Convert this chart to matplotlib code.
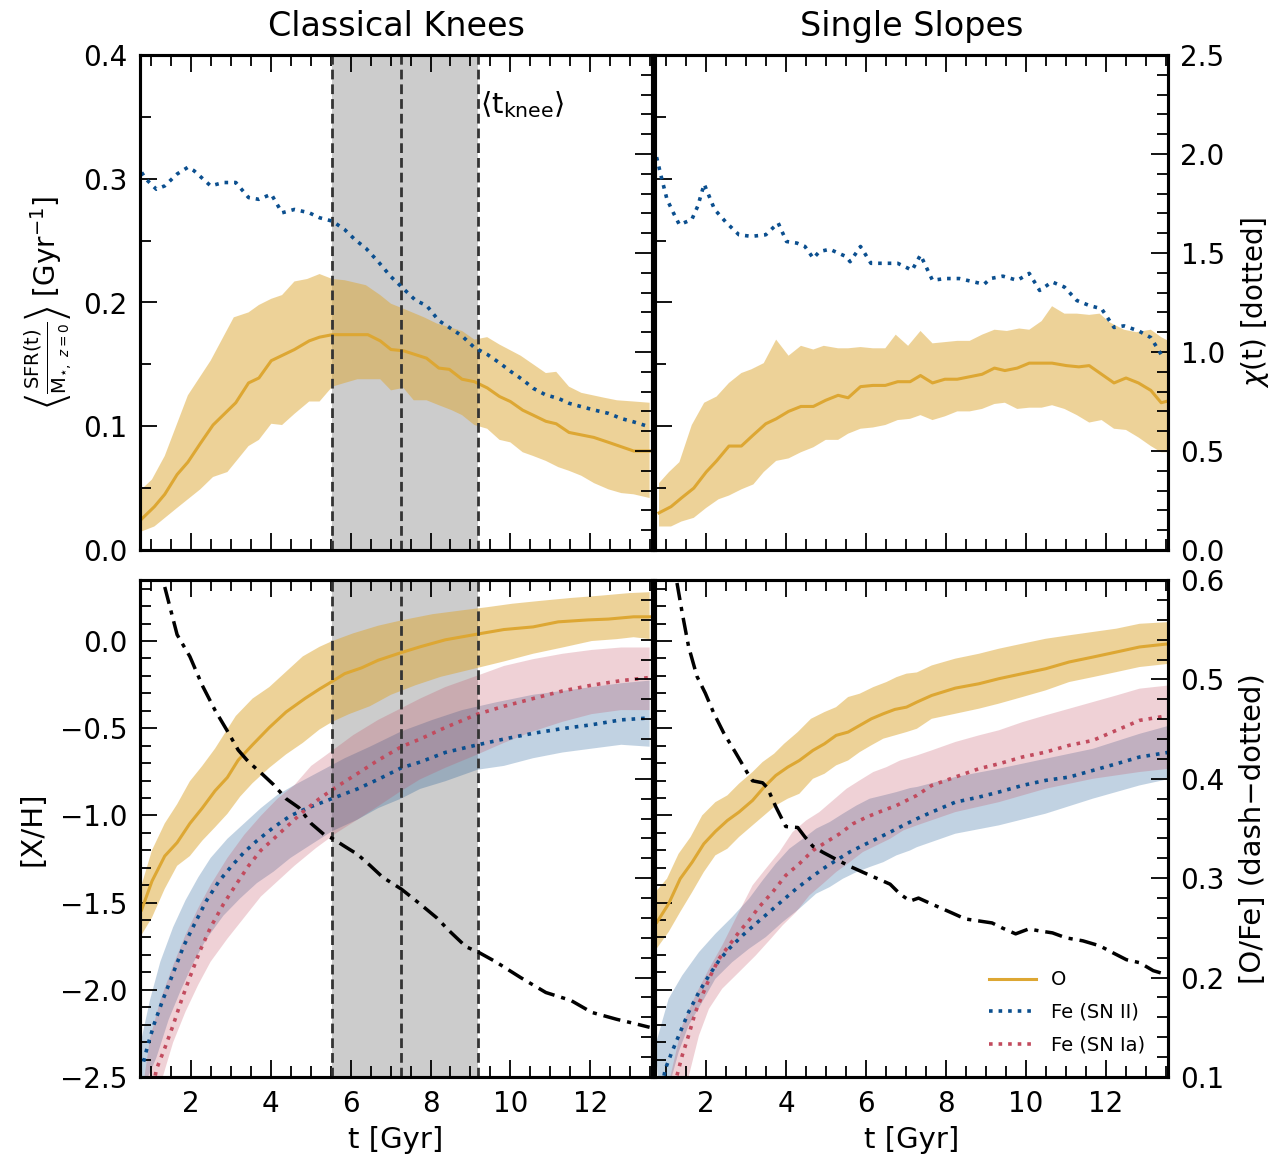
import numpy as np
import matplotlib.pyplot as plt
from matplotlib.ticker import MultipleLocator

plt.rcParams['font.family'] = ['DejaVu Sans']
plt.rcParams['mathtext.fontset'] = 'dejavusans'

GOLD = '#DDA733'
BLUE = '#0B4F8F'
RED = '#C24B5E'

# knee window (Gyr): lower edge, median, upper edge
knee_lo, knee_med, knee_hi = 5.54, 7.27, 9.18

# ---- top left: classical knees, SFR / M* and chi ----
kn_sfr_t = [0.76, 1.08, 1.34, 1.65, 1.92, 2.23, 2.55, 3.12, 3.44, 3.70, 4.01, 4.59, 4.96, 5.22, 5.54, 6.43, 6.74, 7.01,
            7.32, 7.90, 8.21, 8.47, 8.79, 9.10, 9.42, 9.73, 10.0, 10.31, 10.57, 10.89, 11.15, 11.47, 12.09, 12.46, 13.09, 13.49]
kn_sfr = [0.025, 0.035, 0.045, 0.061, 0.071, 0.086, 0.101, 0.119, 0.135, 0.139, 0.153, 0.162, 0.169, 0.172, 0.174, 0.174,
          0.169, 0.162, 0.161, 0.155, 0.147, 0.146, 0.138, 0.136, 0.131, 0.124, 0.120, 0.113, 0.109, 0.104, 0.102, 0.095,
          0.091, 0.087, 0.080, 0.080]
kn_sfr_up_t = [0.76, 1.02, 1.34, 1.92, 2.49, 3.07, 3.44, 3.70, 4.01, 4.28, 4.59, 4.91, 5.22, 5.54, 5.85, 6.38, 6.74, 7.01,
               7.32, 7.84, 8.16, 8.79, 9.10, 9.42, 9.73, 10.26, 10.89, 11.15, 11.47, 11.78, 12.36, 12.67, 13.09, 13.49]
kn_sfr_up = [0.049, 0.057, 0.076, 0.125, 0.153, 0.188, 0.192, 0.198, 0.203, 0.206, 0.217, 0.219, 0.223, 0.219, 0.218,
             0.214, 0.206, 0.199, 0.195, 0.188, 0.183, 0.177, 0.170, 0.172, 0.166, 0.157, 0.143, 0.144, 0.132, 0.127,
             0.123, 0.121, 0.120, 0.119]
kn_sfr_lo_t = [0.76, 1.08, 1.65, 2.23, 2.55, 2.91, 3.44, 3.70, 4.01, 4.28, 4.59, 4.96, 5.22, 5.54, 5.85, 6.17, 6.74, 7.01,
               7.32, 7.58, 7.90, 8.21, 8.53, 8.79, 9.10, 9.42, 9.73, 10.0, 10.31, 10.57, 10.89, 11.20, 11.47, 11.78,
               12.10, 12.46, 12.78, 13.09, 13.49]
kn_sfr_lo = [0.015, 0.019, 0.034, 0.049, 0.059, 0.063, 0.084, 0.089, 0.102, 0.101, 0.110, 0.120, 0.120, 0.132, 0.135,
             0.138, 0.138, 0.129, 0.131, 0.121, 0.121, 0.117, 0.113, 0.109, 0.101, 0.098, 0.089, 0.087, 0.079, 0.076,
             0.072, 0.067, 0.064, 0.060, 0.054, 0.049, 0.046, 0.045, 0.042]
kn_chi_t = [0.76, 0.87, 1.13, 1.34, 1.65, 1.92, 2.07, 2.49, 2.81, 3.12, 3.44, 3.70, 4.01, 4.28, 4.59, 4.96, 5.22, 5.54,
            5.85, 6.11, 6.38, 6.69, 7.01, 7.32, 7.63, 7.90, 8.21, 8.47, 8.79, 9.10, 9.42, 9.73, 10.0, 10.31, 10.57,
            10.89, 11.20, 11.47, 11.78, 12.10, 12.46, 12.78, 13.09, 13.49]
kn_chi = [1.907, 1.873, 1.822, 1.839, 1.899, 1.933, 1.916, 1.839, 1.856, 1.856, 1.780, 1.771, 1.797, 1.703, 1.720, 1.703,
          1.678, 1.661, 1.618, 1.567, 1.524, 1.456, 1.380, 1.320, 1.260, 1.235, 1.158, 1.124, 1.081, 1.022, 0.988,
          0.945, 0.903, 0.860, 0.817, 0.783, 0.766, 0.741, 0.724, 0.707, 0.690, 0.664, 0.647, 0.622]

# ---- top right: single slopes, SFR / M* and chi ----
ss_sfr_t = [0.82, 1.12, 1.38, 1.69, 2.00, 2.26, 2.57, 2.88, 3.18, 3.49, 3.75, 4.06, 4.37, 4.68, 4.99, 5.30, 5.55, 5.86,
            6.17, 6.48, 6.79, 7.10, 7.36, 7.66, 7.97, 8.28, 8.59, 8.90, 9.21, 9.47, 9.78, 10.08, 10.39, 10.65, 11.01,
            11.32, 11.58, 11.89, 12.20, 12.50, 12.81, 13.12, 13.38, 13.62]
ss_sfr = [0.030, 0.035, 0.042, 0.050, 0.063, 0.072, 0.084, 0.084, 0.093, 0.102, 0.106, 0.112, 0.116, 0.116, 0.121, 0.125,
          0.123, 0.132, 0.133, 0.133, 0.136, 0.136, 0.141, 0.135, 0.138, 0.138, 0.140, 0.142, 0.147, 0.145, 0.147,
          0.151, 0.151, 0.151, 0.149, 0.148, 0.149, 0.142, 0.135, 0.139, 0.135, 0.129, 0.119, 0.121]
ss_sfr_up_t = [0.82, 1.07, 1.33, 1.64, 1.95, 2.26, 2.57, 2.88, 3.13, 3.44, 3.75, 4.06, 4.37, 4.68, 4.94, 5.30, 5.55,
               5.86, 6.17, 6.48, 6.74, 7.05, 7.36, 7.66, 7.97, 8.28, 8.59, 8.90, 9.21, 9.52, 9.83, 10.08, 10.39, 10.65,
               10.96, 11.27, 11.58, 11.84, 12.09, 12.45, 12.76, 13.12, 13.38, 13.62]
ss_sfr_up = [0.054, 0.063, 0.071, 0.101, 0.119, 0.124, 0.135, 0.143, 0.146, 0.151, 0.170, 0.157, 0.165, 0.162, 0.165,
             0.163, 0.163, 0.164, 0.163, 0.163, 0.174, 0.165, 0.177, 0.167, 0.168, 0.169, 0.169, 0.174, 0.178, 0.177,
             0.179, 0.178, 0.185, 0.197, 0.191, 0.191, 0.190, 0.191, 0.184, 0.178, 0.176, 0.178, 0.172, 0.168]
ss_sfr_lo_t = [0.82, 1.12, 1.38, 1.69, 2.00, 2.31, 2.57, 2.88, 3.18, 3.44, 3.75, 4.06, 4.37, 4.68, 4.99, 5.30, 5.55,
               5.86, 6.17, 6.48, 6.79, 7.10, 7.36, 7.66, 7.97, 8.28, 8.59, 8.90, 9.21, 9.47, 9.78, 10.08, 10.39, 10.65,
               10.96, 11.27, 11.58, 11.89, 12.20, 12.50, 12.81, 13.12, 13.38, 13.62]
ss_sfr_lo = [0.019, 0.019, 0.023, 0.026, 0.034, 0.041, 0.044, 0.049, 0.053, 0.063, 0.072, 0.074, 0.079, 0.083, 0.089,
             0.089, 0.094, 0.098, 0.099, 0.101, 0.105, 0.106, 0.109, 0.105, 0.108, 0.112, 0.112, 0.114, 0.118, 0.119,
             0.114, 0.115, 0.115, 0.117, 0.114, 0.109, 0.103, 0.105, 0.098, 0.097, 0.091, 0.084, 0.079, 0.079]
ss_chi_t = [0.76, 0.87, 1.02, 1.18, 1.33, 1.64, 1.79, 1.95, 2.21, 2.51, 2.82, 3.13, 3.49, 3.80, 4.01, 4.27, 4.47, 4.68,
            4.83, 5.09, 5.50, 5.60, 5.86, 6.12, 6.33, 6.79, 7.15, 7.36, 7.66, 7.97, 8.33, 8.59, 8.95, 9.11, 9.42, 9.78,
            10.08, 10.34, 10.65, 10.96, 11.27, 11.58, 11.89, 12.20, 12.45, 12.81, 13.12, 13.43]
ss_chi = [1.984, 1.890, 1.771, 1.703, 1.643, 1.669, 1.737, 1.848, 1.720, 1.652, 1.592, 1.584, 1.592, 1.652, 1.558, 1.550,
          1.533, 1.473, 1.507, 1.519, 1.482, 1.456, 1.533, 1.448, 1.448, 1.448, 1.413, 1.490, 1.362, 1.371, 1.371,
          1.359, 1.342, 1.371, 1.383, 1.362, 1.397, 1.311, 1.354, 1.328, 1.260, 1.235, 1.218, 1.124, 1.132, 1.107,
          1.073, 0.971]

# ---- bottom left: classical knees, [X/H] and [O/Fe] ----
kn_o_t = [0.76, 1.02, 1.34, 1.65, 1.97, 2.28, 2.60, 2.91, 3.18, 3.54, 3.96, 4.38, 4.85, 5.22, 5.54, 5.85, 6.27, 6.69,
          7.27, 7.74, 8.37, 9.18, 9.84, 10.57, 11.20, 11.94, 12.46, 13.09, 13.49]
kn_o = [-1.542, -1.377, -1.233, -1.156, -1.046, -0.958, -0.859, -0.782, -0.683, -0.595, -0.496, -0.407, -0.330, -0.275,
        -0.231, -0.187, -0.154, -0.110, -0.066, -0.033, 0.007, 0.040, 0.066, 0.081, 0.110, 0.121, 0.126, 0.139, 0.139]
kn_o_up_t = [0.76, 1.02, 1.34, 1.65, 1.97, 2.28, 2.60, 3.12, 3.54, 3.96, 4.38, 4.80, 5.22, 5.54, 6.06, 6.69, 7.32,
             8.05, 8.79, 9.42, 10.05, 10.78, 11.52, 12.25, 12.99, 13.49]
kn_o_up = [-1.399, -1.200, -1.046, -0.936, -0.804, -0.716, -0.617, -0.430, -0.330, -0.264, -0.176, -0.088, -0.033,
           0.000, 0.044, 0.088, 0.121, 0.154, 0.176, 0.194, 0.214, 0.231, 0.247, 0.260, 0.275, 0.280]
kn_o_lo_t = [0.76, 1.02, 1.34, 1.65, 1.97, 2.28, 2.60, 2.91, 3.23, 3.54, 3.96, 4.38, 4.80, 5.22, 5.54, 5.96, 6.48,
             7.01, 7.63, 8.26, 9.18, 9.84, 10.57, 11.31, 12.04, 12.67, 13.09, 13.49]
kn_o_lo = [-1.685, -1.586, -1.421, -1.289, -1.233, -1.145, -1.068, -0.991, -0.892, -0.815, -0.727, -0.650, -0.584,
           -0.507, -0.463, -0.419, -0.374, -0.308, -0.253, -0.205, -0.154, -0.117, -0.073, -0.037, 0.000, 0.011,
           0.022, 0.011]
kn_fe2_t = [0.81, 0.92, 1.08, 1.29, 1.55, 1.81, 2.07, 2.39, 2.70, 3.02, 3.33, 3.65, 4.07, 4.49, 4.91, 5.54, 6.17, 6.69,
            7.27, 7.74, 8.37, 9.18, 9.84, 10.57, 11.31, 12.04, 12.78, 13.49]
kn_fe2 = [-2.412, -2.313, -2.192, -2.059, -1.905, -1.751, -1.630, -1.487, -1.377, -1.289, -1.211, -1.145, -1.068,
          -1.002, -0.958, -0.903, -0.848, -0.793, -0.727, -0.694, -0.639, -0.595, -0.562, -0.529, -0.502, -0.480,
          -0.452, -0.441]
kn_fe2_up_t = [0.76, 0.97, 1.23, 1.55, 1.86, 2.18, 2.49, 2.91, 3.33, 3.75, 4.17, 4.59, 5.22, 5.85, 6.48, 7.27, 8.05,
               8.79, 9.63, 10.57, 11.31, 12.04, 12.78, 13.49]
kn_fe2_up = [-2.280, -2.059, -1.839, -1.641, -1.487, -1.355, -1.244, -1.134, -1.046, -0.958, -0.881, -0.826, -0.749,
             -0.672, -0.606, -0.518, -0.452, -0.396, -0.352, -0.308, -0.286, -0.264, -0.242, -0.227]
kn_fe2_lo_t = [0.76, 0.92, 1.13, 1.44, 1.76, 2.07, 2.39, 2.81, 3.23, 3.65, 4.07, 4.49, 5.01, 5.54, 6.17, 6.69, 7.27,
               7.74, 8.37, 9.18, 9.84, 10.57, 11.31, 12.04, 12.78, 13.49]
kn_fe2_lo = [-2.8, -2.5, -2.390, -2.170, -1.993, -1.839, -1.707, -1.575, -1.476, -1.388, -1.322, -1.244, -1.167, -1.090,
             -1.024, -0.958, -0.903, -0.848, -0.804, -0.738, -0.716, -0.672, -0.639, -0.617, -0.595, -0.606]
kn_fe1_t = [1.02, 1.13, 1.34, 1.55, 1.76, 1.97, 2.23, 2.49, 2.81, 3.12, 3.44, 3.75, 4.07, 4.38, 4.80, 5.22, 5.64, 6.17,
            6.69, 7.27, 7.74, 8.37, 9.18, 9.84, 10.57, 11.31, 12.04, 12.78, 13.49]
kn_fe1 = [-2.60, -2.456, -2.335, -2.203, -2.059, -1.927, -1.773, -1.641, -1.509, -1.399, -1.289, -1.200, -1.134, -1.068,
          -0.980, -0.903, -0.837, -0.760, -0.683, -0.606, -0.562, -0.496, -0.419, -0.374, -0.330, -0.286, -0.253,
          -0.227, -0.209]
kn_fe1_up_t = [0.80, 0.97, 1.23, 1.55, 1.86, 2.18, 2.49, 2.91, 3.33, 3.75, 4.17, 4.59, 5.01, 5.54, 6.06, 6.69, 7.27,
               7.74, 8.37, 9.18, 9.84, 10.57, 11.31, 12.04, 12.78, 13.49]
kn_fe1_up = [-2.55, -2.280, -2.059, -1.861, -1.685, -1.531, -1.399, -1.244, -1.112, -1.002, -0.903, -0.826, -0.716,
             -0.628, -0.540, -0.452, -0.385, -0.330, -0.264, -0.198, -0.143, -0.104, -0.073, -0.051, -0.037, -0.037]
kn_fe1_lo_t = [1.00, 1.29, 1.55, 1.86, 2.18, 2.49, 2.91, 3.33, 3.75, 4.17, 4.59, 5.12, 5.64, 6.17, 6.69, 7.27, 7.74,
               8.37, 9.18, 9.84, 10.57, 11.31, 12.04, 12.78, 13.49]
kn_fe1_lo = [-2.9, -2.5, -2.302, -2.126, -1.971, -1.839, -1.707, -1.586, -1.465, -1.377, -1.289, -1.189, -1.101,
             -1.024, -0.947, -0.859, -0.793, -0.727, -0.650, -0.584, -0.518, -0.463, -0.419, -0.396, -0.396]
kn_ofe_t = [1.34, 1.65, 1.97, 2.28, 2.60, 2.91, 3.18, 3.44, 3.75, 4.07, 4.38, 4.70, 5.01, 5.33, 5.54, 5.85, 6.17, 6.48,
            6.80, 7.27, 7.74, 8.16, 8.47, 8.89, 9.18, 9.63, 10.26, 10.89, 11.52, 12.04, 12.67, 13.09, 13.49]
kn_ofe = [0.593, 0.545, 0.523, 0.494, 0.469, 0.448, 0.429, 0.417, 0.406, 0.394, 0.380, 0.371, 0.355, 0.344, 0.340,
          0.332, 0.324, 0.313, 0.301, 0.289, 0.274, 0.260, 0.247, 0.231, 0.226, 0.216, 0.200, 0.185, 0.177, 0.165,
          0.158, 0.154, 0.150]

# ---- bottom right: single slopes, [X/H] and [O/Fe] ----
ss_o_t = [0.77, 1.06, 1.35, 1.65, 1.94, 2.23, 2.53, 2.82, 3.16, 3.45, 3.74, 4.04, 4.33, 4.67, 4.96, 5.25, 5.55, 5.84,
          6.13, 6.43, 6.72, 7.01, 7.27, 7.64, 8.23, 8.82, 9.32, 9.91, 10.49, 11.08, 11.67, 12.26, 12.84, 13.6]
ss_o = [-1.612, -1.507, -1.363, -1.268, -1.163, -1.092, -1.029, -0.981, -0.914, -0.837, -0.771, -0.723, -0.685, -0.627,
        -0.589, -0.541, -0.522, -0.484, -0.446, -0.417, -0.392, -0.379, -0.350, -0.312, -0.270, -0.245, -0.216, -0.187,
        -0.159, -0.120, -0.092, -0.063, -0.034, -0.015]
ss_o_up_t = [0.73, 1.02, 1.31, 1.61, 1.90, 2.23, 2.53, 2.82, 3.16, 3.41, 3.70, 3.95, 4.29, 4.62, 4.96, 5.25, 5.55, 5.84,
             6.18, 6.51, 6.76, 7.01, 7.27, 7.64, 8.23, 8.82, 9.32, 9.91, 10.49, 11.08, 11.67, 12.26, 12.84, 13.6]
ss_o_up = [-1.440, -1.363, -1.220, -1.124, -1.000, -0.924, -0.885, -0.818, -0.751, -0.694, -0.646, -0.589, -0.522,
           -0.446, -0.407, -0.379, -0.321, -0.302, -0.264, -0.235, -0.207, -0.187, -0.180, -0.140, -0.101, -0.073,
           -0.044, -0.015, 0.013, 0.033, 0.052, 0.071, 0.099, 0.109]
ss_o_lo_t = [0.73, 1.06, 1.35, 1.65, 1.94, 2.23, 2.53, 2.82, 3.16, 3.45, 3.74, 4.04, 4.33, 4.67, 4.96, 5.25, 5.55, 5.84,
             6.13, 6.43, 6.72, 7.01, 7.27, 7.64, 8.23, 8.82, 9.32, 9.91, 10.49, 11.08, 11.67, 12.26, 12.84, 13.6]
ss_o_lo = [-1.774, -1.669, -1.554, -1.440, -1.325, -1.229, -1.191, -1.124, -1.057, -1.000, -0.943, -0.904, -0.876,
           -0.790, -0.761, -0.713, -0.685, -0.637, -0.598, -0.560, -0.541, -0.522, -0.503, -0.446, -0.417, -0.388,
           -0.359, -0.321, -0.283, -0.235, -0.207, -0.178, -0.149, -0.130]
ss_fe2_t = [0.85, 0.98, 1.14, 1.35, 1.56, 1.82, 2.07, 2.32, 2.57, 2.91, 3.24, 3.58, 3.91, 4.25, 4.58, 4.92, 5.25, 5.59,
            5.92, 6.26, 6.60, 6.93, 7.27, 7.64, 8.23, 8.82, 9.32, 9.91, 10.49, 11.08, 11.67, 12.26, 12.84, 13.6]
ss_fe2 = [-2.6, -2.453, -2.358, -2.243, -2.128, -2.013, -1.918, -1.832, -1.765, -1.688, -1.621, -1.554, -1.488, -1.421,
          -1.363, -1.306, -1.258, -1.210, -1.172, -1.134, -1.096, -1.057, -1.019, -0.981, -0.924, -0.895, -0.866,
          -0.828, -0.799, -0.780, -0.742, -0.704, -0.665, -0.637]
ss_fe2_up_t = [0.73, 1.06, 1.40, 1.82, 2.23, 2.65, 3.07, 3.41, 3.74, 4.08, 4.42, 4.75, 5.09, 5.42, 5.76, 6.09, 6.43,
               6.76, 7.10, 7.27, 8.23, 9.32, 10.49, 11.67, 12.84, 13.6]
ss_fe2_up = [-2.319, -2.052, -1.918, -1.784, -1.679, -1.583, -1.478, -1.373, -1.277, -1.191, -1.134, -1.076, -1.038,
             -0.990, -0.943, -0.904, -0.885, -0.866, -0.843, -0.837, -0.780, -0.732, -0.675, -0.618, -0.532, -0.484]
ss_fe2_lo_t = [0.90, 1.14, 1.31, 1.56, 1.90, 2.23, 2.65, 3.07, 3.49, 3.91, 4.33, 4.75, 5.09, 5.42, 5.76, 6.09, 6.43,
               6.76, 7.10, 7.27, 8.23, 9.32, 10.49, 11.67, 12.84, 13.6]
ss_fe2_lo = [-2.8, -2.5, -2.358, -2.205, -2.071, -1.937, -1.842, -1.765, -1.698, -1.612, -1.535, -1.449, -1.411, -1.363,
             -1.325, -1.296, -1.268, -1.229, -1.201, -1.182, -1.105, -1.057, -0.990, -0.904, -0.828, -0.790]
ss_fe1_t = [1.27, 1.40, 1.56, 1.73, 1.90, 2.11, 2.32, 2.57, 2.82, 3.07, 3.32, 3.66, 3.99, 4.33, 4.67, 5.00, 5.34, 5.67,
            6.01, 6.43, 6.76, 7.10, 7.27, 7.64, 8.23, 8.82, 9.32, 9.91, 10.49, 11.08, 11.67, 12.26, 12.84, 13.6]
ss_fe1 = [-2.491, -2.377, -2.262, -2.128, -2.033, -1.918, -1.822, -1.746, -1.669, -1.602, -1.526, -1.440, -1.344,
          -1.277, -1.201, -1.153, -1.105, -1.048, -1.010, -0.971, -0.943, -0.904, -0.885, -0.828, -0.780, -0.732,
          -0.704, -0.665, -0.637, -0.598, -0.570, -0.512, -0.455, -0.426]
ss_fe1_up_t = [1.00, 1.40, 1.73, 2.07, 2.40, 2.82, 3.16, 3.49, 3.83, 4.16, 4.50, 4.83, 5.17, 5.51, 5.84, 6.18, 6.51,
               6.85, 7.27, 7.64, 8.23, 8.82, 9.32, 9.91, 10.49, 11.08, 11.67, 12.26, 12.84, 13.6]
ss_fe1_up = [-2.6, -2.205, -2.033, -1.880, -1.746, -1.554, -1.401, -1.306, -1.210, -1.096, -1.029, -0.981, -0.914,
             -0.847, -0.799, -0.751, -0.723, -0.685, -0.656, -0.627, -0.579, -0.541, -0.512, -0.465, -0.426, -0.388,
             -0.350, -0.312, -0.273, -0.254]
ss_fe1_lo_t = [1.40, 1.56, 1.82, 2.07, 2.40, 2.82, 3.24, 3.58, 3.91, 4.25, 4.58, 4.92, 5.25, 5.59, 5.92, 6.26, 6.60,
               6.93, 7.27, 8.23, 9.32, 10.49, 11.67, 12.84, 13.6]
ss_fe1_lo = [-2.8, -2.5, -2.262, -2.109, -1.994, -1.899, -1.803, -1.717, -1.631, -1.554, -1.459, -1.392, -1.325, -1.268,
             -1.210, -1.172, -1.134, -1.086, -1.057, -0.981, -0.924, -0.847, -0.790, -0.751, -0.732]
ss_ofe_t = [1.27, 1.40, 1.56, 1.77, 1.98, 2.19, 2.44, 2.74, 3.03, 3.16, 3.41, 3.53, 3.74, 3.99, 4.29, 4.46, 4.67, 4.92,
            5.25, 5.59, 5.92, 6.26, 6.60, 6.85, 7.10, 7.31, 7.64, 8.15, 8.48, 8.82, 9.15, 9.40, 9.74, 10.07, 10.33,
            10.66, 11.0, 11.42, 11.84, 12.17, 12.51, 12.84, 13.18, 13.51]
ss_ofe = [0.597, 0.567, 0.533, 0.503, 0.486, 0.466, 0.446, 0.426, 0.406, 0.398, 0.396, 0.391, 0.372, 0.352, 0.351,
          0.342, 0.332, 0.326, 0.319, 0.312, 0.306, 0.300, 0.294, 0.284, 0.277, 0.280, 0.274, 0.265, 0.259, 0.257,
          0.255, 0.250, 0.244, 0.249, 0.247, 0.245, 0.240, 0.237, 0.232, 0.225, 0.218, 0.215, 0.207, 0.203]

titles = ['Classical Knees', 'Single Slopes']
xlim = (0.72, 13.55)


def band(ax, t_up, up, t_lo, lo, color, alpha):
    xs = np.concatenate([t_up, t_lo[::-1]])
    ys = np.concatenate([up, lo[::-1]])
    ax.fill(xs, ys, color=color, alpha=alpha, lw=0)


def style(ax, tw, ymaj, ymin, tmaj, tmin, left_lab, right_lab, bottom_lab):
    ax.set_xlim(*xlim)
    ax.xaxis.set_major_locator(MultipleLocator(2))
    ax.xaxis.set_minor_locator(MultipleLocator(0.5))
    ax.yaxis.set_major_locator(MultipleLocator(ymaj))
    ax.yaxis.set_minor_locator(MultipleLocator(ymin))
    tw.yaxis.set_major_locator(MultipleLocator(tmaj))
    tw.yaxis.set_minor_locator(MultipleLocator(tmin))
    ax.tick_params(which='both', direction='in', top=True, bottom=True, left=True, right=False,
                   labelsize=20, pad=9, width=1.3, labelleft=left_lab, labelbottom=bottom_lab)
    ax.tick_params(which='major', length=12)
    ax.tick_params(which='minor', length=8)
    tw.tick_params(which='both', direction='in', right=True, left=False, labelsize=20, pad=9,
                   width=1.3, labelright=right_lab)
    tw.tick_params(which='major', length=12)
    tw.tick_params(which='minor', length=8)
    for a in (ax, tw):
        for s in a.spines.values():
            s.set_linewidth(2.2)


fig = plt.figure(figsize=(12.82, 11.63), dpi=100)
W, H = 1282, 1163
cols = [(140, 652), (655, 1168)]
rows = [(55, 550), (580, 1077)]
axes = {}
for r, (y0, y1) in enumerate(rows):
    for c, (x0, x1) in enumerate(cols):
        ax = fig.add_axes([x0 / W, 1 - y1 / H, (x1 - x0) / W, (y1 - y0) / H])
        axes[r, c] = (ax, ax.twinx())

# top row
for c, (sfr_t, sfr, up_t, up, lo_t, lo, chi_t, chi) in enumerate([
        (kn_sfr_t, kn_sfr, kn_sfr_up_t, kn_sfr_up, kn_sfr_lo_t, kn_sfr_lo, kn_chi_t, kn_chi),
        (ss_sfr_t, ss_sfr, ss_sfr_up_t, ss_sfr_up, ss_sfr_lo_t, ss_sfr_lo, ss_chi_t, ss_chi)]):
    ax, tw = axes[0, c]
    if c == 0:
        ax.axvspan(knee_lo, knee_hi, color='0.5', alpha=0.4, lw=0)
    band(ax, up_t, up, lo_t, lo, GOLD, 0.5)
    ax.plot(sfr_t, sfr, color=GOLD, lw=2.2)
    if c == 0:
        for x in (knee_lo, knee_med, knee_hi):
            ax.axvline(x, color='0.2', lw=2, ls=(0, (3.5, 1.8)), zorder=3)
        ax.text(knee_hi + 0.05, 0.360, r'$\langle \mathrm{t}_{\mathrm{knee}} \rangle$', fontsize=21, va='center')
    tw.plot(chi_t, chi, color=BLUE, lw=2.6, ls=':')
    ax.set_ylim(0, 0.4)
    tw.set_ylim(0, 2.5)
    style(ax, tw, 0.1, 0.05, 0.5, 0.1, c == 0, c == 1, False)
    ax.set_title(titles[c], fontsize=24, pad=14)

axes[0, 0][0].set_ylabel(r'$\left\langle \frac{\mathrm{SFR(t)}}{\mathrm{M}_{\star,\ z=0}} \right\rangle$ [Gyr$^{-1}$]',
                         fontsize=20, labelpad=6)
axes[0, 1][1].set_ylabel(r'$\chi$(t) [dotted]', fontsize=20, labelpad=10)

# bottom row
bottom_sets = [
    (kn_o_t, kn_o, kn_o_up_t, kn_o_up, kn_o_lo_t, kn_o_lo,
     kn_fe2_t, kn_fe2, kn_fe2_up_t, kn_fe2_up, kn_fe2_lo_t, kn_fe2_lo,
     kn_fe1_t, kn_fe1, kn_fe1_up_t, kn_fe1_up, kn_fe1_lo_t, kn_fe1_lo, kn_ofe_t, kn_ofe),
    (ss_o_t, ss_o, ss_o_up_t, ss_o_up, ss_o_lo_t, ss_o_lo,
     ss_fe2_t, ss_fe2, ss_fe2_up_t, ss_fe2_up, ss_fe2_lo_t, ss_fe2_lo,
     ss_fe1_t, ss_fe1, ss_fe1_up_t, ss_fe1_up, ss_fe1_lo_t, ss_fe1_lo, ss_ofe_t, ss_ofe)]
for c, d in enumerate(bottom_sets):
    ax, tw = axes[1, c]
    (o_t, o, o_up_t, o_up, o_lo_t, o_lo, f2_t, f2, f2_up_t, f2_up, f2_lo_t, f2_lo,
     f1_t, f1, f1_up_t, f1_up, f1_lo_t, f1_lo, ofe_t, ofe) = d
    if c == 0:
        ax.axvspan(knee_lo, knee_hi, color='0.5', alpha=0.4, lw=0)
    band(ax, o_up_t, o_up, o_lo_t, o_lo, GOLD, 0.5)
    band(ax, f2_up_t, f2_up, f2_lo_t, f2_lo, BLUE, 0.25)
    band(ax, f1_up_t, f1_up, f1_lo_t, f1_lo, RED, 0.25)
    ax.plot(o_t, o, color=GOLD, lw=2.2, label='O')
    ax.plot(f2_t, f2, color=BLUE, lw=2.6, ls=':', label='Fe (SN II)')
    ax.plot(f1_t, f1, color=RED, lw=2.6, ls=':', label='Fe (SN Ia)')
    if c == 0:
        for x in (knee_lo, knee_med, knee_hi):
            ax.axvline(x, color='0.2', lw=2, ls=(0, (3.5, 1.8)), zorder=3)
    tw.plot(ofe_t, ofe, color='black', lw=2.5, ls=(0, (5, 2, 1.2, 2)))
    ax.set_ylim(-2.5, 0.35)
    tw.set_ylim(0.1, 0.6)
    style(ax, tw, 0.5, 0.1, 0.1, 0.02, c == 0, c == 1, True)
    ax.set_xlabel('t [Gyr]', fontsize=21, labelpad=6)

axes[1, 0][0].set_ylabel('[X/H]', fontsize=21, labelpad=10)
axes[1, 1][1].set_ylabel('[O/Fe] (dash\u2212dotted)', fontsize=21, labelpad=10)
axes[1, 1][0].legend(loc='lower right', bbox_to_anchor=(0.99, 0.01), frameon=False, fontsize=14,
                     handlelength=2.4, labelspacing=0.7)

fig.savefig('out.png', dpi=100)
